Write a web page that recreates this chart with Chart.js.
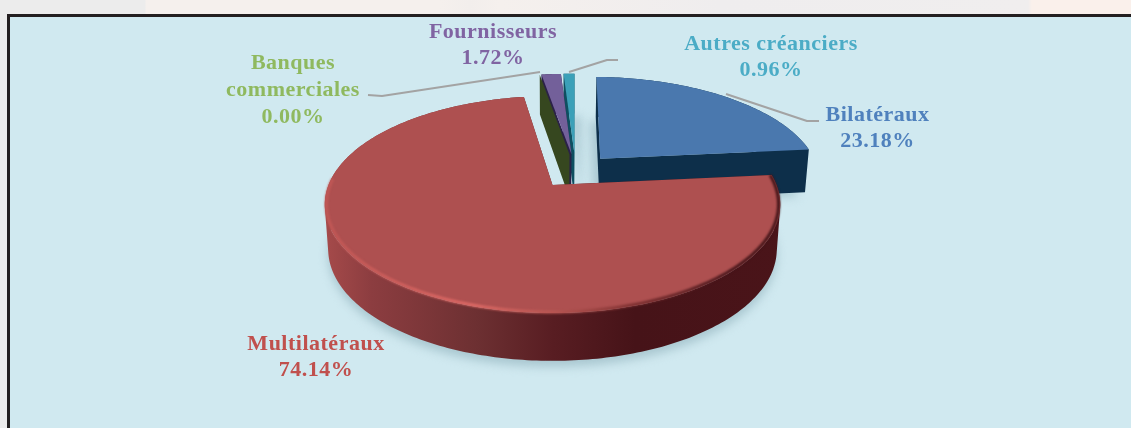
<!DOCTYPE html>
<html><head><meta charset="utf-8">
<script src="https://cdn.jsdelivr.net/npm/chart.js@4"></script>
<style>
html,body{margin:0;padding:0;width:1131px;height:428px;overflow:hidden}
body{background:linear-gradient(90deg,#ececec 0,#ececec 145px,#f5f0ed 146px,#f5f0ed 440px,#f2eeec 470px,#f5f0ed 500px,#efedee 720px,#f0eeee 1028px,#faf0eb 1032px,#faf0eb 100%)}
#frame{position:absolute;left:7px;top:14px;right:-10px;bottom:-10px;background:#d0e9f0;border:solid #231f20;border-width:3px 0 0 3px}
#wrap{position:absolute;left:0;top:0;width:1131px;height:428px}
</style></head>
<body><div id="frame"></div><div id="wrap"><canvas id="c" width="1131" height="428"></canvas></div>
<script>
const categories = ['Bilatéraux','Multilatéraux',['Banques','commerciales'],'Fournisseurs','Autres créanciers'];
const shares = [23.18,74.14,0.00,1.72,0.96];

const topColors  = ['#4a78ae','#ae5050','#36471f','#73609a','#3ba0b8'];
const wallColors = ['#0d2f4a','#8a3c3f','#36471f','#2b2148','#0e4f60'];
const textColors = ['#4f81bd','#c0504d','#8fb95f','#8064a2','#4bacc6'];
const labelSpots = [[877.5,115],[316,344],[293,63.5],[493,32],[771,44]];
const leaders = [
  [[819,121],[807,121],[726,94]],
  [[368,95],[382,96],[540,72]],
  [[618,60],[607,60],[569,72]]
];
const cam = {cx:552.5,cy:185,k:224,K:105,p:0.18,q:0.08,D:44,bottomX:0.985};

function proj(u,v,z){
  const d=1-cam.p*v;
  const kx=z?cam.k*cam.bottomX:cam.k;
  return [cam.cx+kx*u/d, cam.cy+cam.K*v/d+(z?cam.D/(1-cam.q*v):0)];
}
function addPoly(ctx,pts){
  let area=0;
  pts.forEach((q,i)=>{const s=pts[(i+1)%pts.length];area+=q[0]*s[1]-s[0]*q[1];});
  const list=area<0?pts.slice().reverse():pts;
  list.forEach((q,i)=>i?ctx.lineTo(q[0],q[1]):ctx.moveTo(q[0],q[1]));
  ctx.closePath();
}
function poly(ctx,pts){ctx.beginPath();addPoly(ctx,pts);}

const pie3d = {
  id:'pie3d',
  beforeDatasetsDraw(chart){
    const ctx=chart.ctx, arcs=chart.getDatasetMeta(0).data;
    const R=arcs[0].outerRadius, e=arcs[0].options.offset/R;
    const mid=a=>(a.startAngle+a.endAngle)/2;
    const mr=mid(arcs[1]);
    const geom=arcs.map(a=>{
      const m=mid(a);
      const ou=e*Math.cos(m)-e*Math.cos(mr), ov=e*Math.sin(m)-e*Math.sin(mr);
      const n=Math.max(1,Math.ceil((a.endAngle-a.startAngle)/(Math.PI/180)));
      const rim=[];
      for(let i=0;i<=n;i++){const t=a.startAngle+(a.endAngle-a.startAngle)*i/n;rim.push([ou+Math.cos(t),ov+Math.sin(t),t]);}
      return {ou,ov,rim};
    });
    const topPoly=g=>[proj(g.ou,g.ov,0),...g.rim.map(q=>proj(q[0],q[1],0))];
    const botPoly=g=>[proj(g.ou,g.ov,1),...g.rim.map(q=>proj(q[0],q[1],1))];
    const shadow=(g,dx,dy,blur,col)=>{
      ctx.save();ctx.filter='blur('+blur+'px)';ctx.fillStyle=col;ctx.translate(dx,dy);poly(ctx,botPoly(g));ctx.fill();ctx.restore();
    };
    const walls=(i,fill)=>{
      const g=geom[i];ctx.fillStyle=fill||wallColors[i];
      const a0=g.rim[0],a1=g.rim[g.rim.length-1];
      ctx.beginPath();
      addPoly(ctx,[proj(g.ou,g.ov,0),proj(a0[0],a0[1],0),proj(a0[0],a0[1],1),proj(g.ou,g.ov,1)]);
      addPoly(ctx,[proj(g.ou,g.ov,0),proj(a1[0],a1[1],0),proj(a1[0],a1[1],1),proj(g.ou,g.ov,1)]);
      for(let j=0;j<g.rim.length-1;j++){
        const q=g.rim[j],s=g.rim[j+1];
        addPoly(ctx,[proj(q[0],q[1],0),proj(s[0],s[1],0),proj(s[0],s[1],1),proj(q[0],q[1],1)]);
      }
      ctx.fill('nonzero');
    };
    const top=i=>{ctx.fillStyle=topColors[i];poly(ctx,topPoly(geom[i]));ctx.fill();};

    ctx.save();
    shadow(geom[4],7,3,5,'#aac8d1');
    shadow(geom[0],-6,4,5,'#aac8d1');
    walls(4);top(4);
    walls(3);walls(2);top(3);
    walls(0);top(0);
    shadow(geom[1],0,6,5,'#a9c7d0');
    const wg=ctx.createLinearGradient(326,0,781,0);
    wg.addColorStop(0,'#a54a4a');wg.addColorStop(.1,'#8c3d40');wg.addColorStop(.33,'#6d3032');
    wg.addColorStop(.5,'#581d22');wg.addColorStop(.68,'#461318');wg.addColorStop(1,'#4a1419');
    walls(1,wg);top(1);
    const rg=ctx.createLinearGradient(326,0,781,0);
    rg.addColorStop(0,'#c05755');rg.addColorStop(.32,'#df6a66');rg.addColorStop(.5,'#b85652');
    rg.addColorStop(.68,'#7a2e2f');rg.addColorStop(.88,'#45151a');rg.addColorStop(1,'#3f1216');
    ctx.save();ctx.filter='blur(0.8px)';ctx.strokeStyle=rg;ctx.lineWidth=3;ctx.lineJoin='round';
    ctx.beginPath();
    geom[1].rim.filter(q=>q[2]<Math.PI*1.02).forEach((q,i)=>{const s=proj(q[0]*.993,q[1]*.993,0);i?ctx.lineTo(s[0],s[1]):ctx.moveTo(s[0],s[1]);});
    ctx.stroke();ctx.restore();

    ctx.strokeStyle='#a3a3a3';ctx.lineWidth=2;ctx.lineJoin='round';
    leaders.forEach(l=>{ctx.beginPath();l.forEach((q,i)=>i?ctx.lineTo(q[0],q[1]):ctx.moveTo(q[0],q[1]));ctx.stroke();});

    ctx.font='bold 22px "Liberation Serif"';ctx.letterSpacing='0.5px';ctx.textAlign='center';ctx.textBaseline='middle';
    chart.data.labels.forEach((name,i)=>{
      const lines=[].concat(name,shares[i].toFixed(2)+'%');
      ctx.fillStyle=textColors[i];
      lines.forEach((t,j)=>ctx.fillText(t,labelSpots[i][0],labelSpots[i][1]+j*26.8));
    });
    ctx.restore();
    return false;
  }
};

new Chart(document.getElementById('c'),{
  type:'pie',
  data:{labels:categories,datasets:[{data:shares,backgroundColor:topColors,borderWidth:0,offset:34}]},
  options:{responsive:false,animation:false,rotation:1,events:[],
    plugins:{legend:{display:false},tooltip:{enabled:false}}},
  plugins:[pie3d]
});
</script></body></html>
